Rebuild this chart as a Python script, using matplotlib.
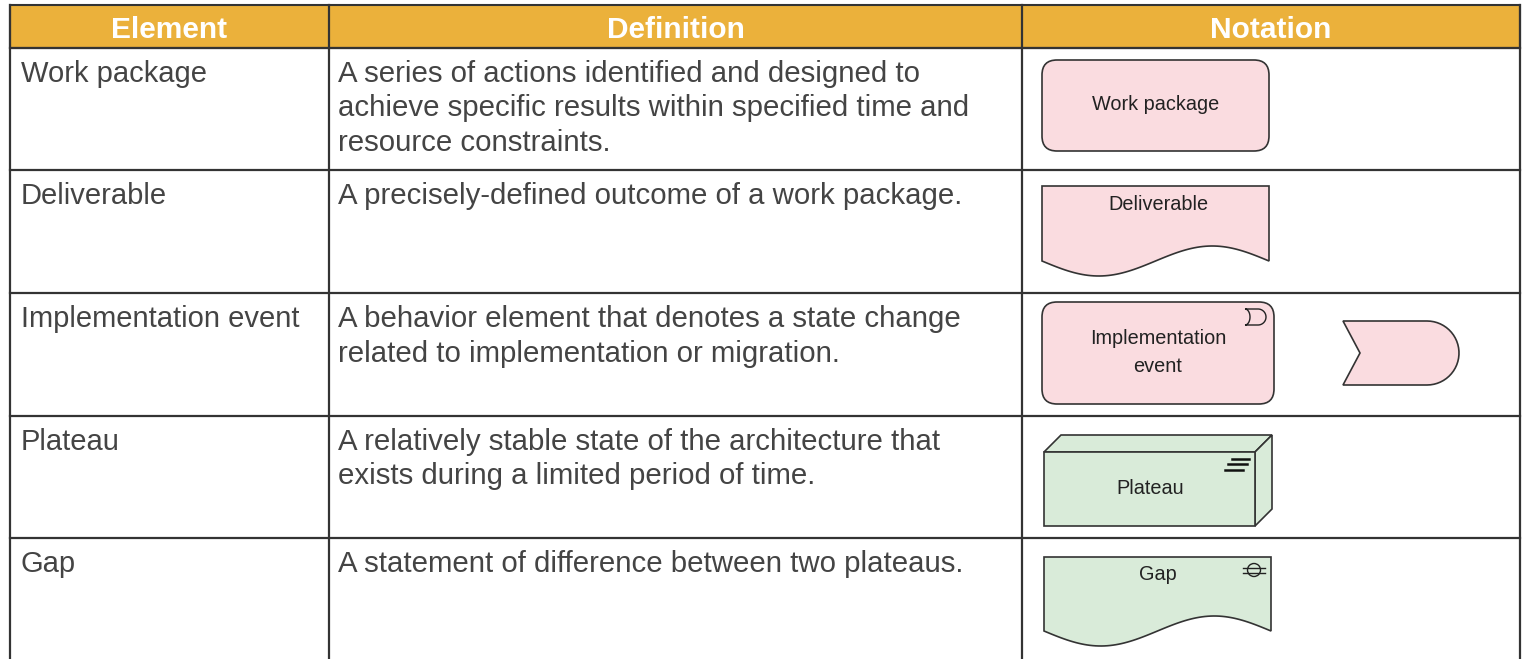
import numpy as np
import matplotlib.pyplot as plt
from matplotlib.patches import FancyBboxPatch, Polygon, Circle, Rectangle

plt.rcParams['font.family'] = ['Liberation Sans', 'DejaVu Sans']

# table content
headers = ['Element', 'Definition', 'Notation']
elements = ['Work package', 'Deliverable', 'Implementation event', 'Plateau', 'Gap']
definitions = [
    ['A series of actions identified and designed to',
     'achieve specific results within specified time and',
     'resource constraints.'],
    ['A precisely-defined outcome of a work package.'],
    ['A behavior element that denotes a state change',
     'related to implementation or migration.'],
    ['A relatively stable state of the architecture that',
     'exists during a limited period of time.'],
    ['A statement of difference between two plateaus.'],
]
shape_labels = ['Work package', 'Deliverable', 'Implementation\nevent', 'Plateau', 'Gap']

header_color = '#EBB13B'
pink = '#FADCE0'
green = '#D9EBD9'
line_color = '#333333'
text_color = '#444444'

W, H = 1524, 659
col_x = [10, 329, 1022, 1520]
header_top, header_bot = 5, 48
row_tops = [48, 170, 293, 416, 538]

fig = plt.figure(figsize=(W / 100, H / 100), dpi=100)
ax = fig.add_axes([0, 0, 1, 1])
ax.set_xlim(0, W)
ax.set_ylim(H, 0)
ax.axis('off')

# header
ax.add_patch(Rectangle((col_x[0], header_top), col_x[-1] - col_x[0], header_bot - header_top,
                       facecolor=header_color, edgecolor=line_color, lw=1.5, zorder=1))
for i, h in enumerate(headers):
    ax.text((col_x[i] + col_x[i + 1]) / 2, (header_top + header_bot) / 2 + 3, h,
            ha='center', va='center', color='white', fontsize=21.5, fontweight='bold')

# grid lines
for x in col_x:
    ax.plot([x, x], [header_top, H], color=line_color, lw=1.6, zorder=2)
for y in row_tops:
    ax.plot([col_x[0], col_x[-1]], [y, y], color=line_color, lw=1.6, zorder=2)

# text columns
for r, (el, lines) in enumerate(zip(elements, definitions)):
    base = row_tops[r] + 34
    ax.text(21, base, el, ha='left', va='baseline', fontsize=21, color=text_color)
    for k, ln in enumerate(lines):
        ax.text(338, base + k * 34.5, ln, ha='left', va='baseline', fontsize=21.2, color=text_color)


def wave_doc(x0, x1, ytop, ybase, amp, fc):
    xs = np.linspace(x1, x0, 80)
    t = (xs - x0) / (x1 - x0)
    ys = ybase + amp * np.sin(2 * np.pi * t)
    pts = [(x0, ytop), (x1, ytop)] + list(zip(xs, ys))
    ax.add_patch(Polygon(pts, closed=True, facecolor=fc, edgecolor=line_color, lw=1.2, zorder=3))


sfs = 14.3
# work package
ax.add_patch(FancyBboxPatch((1042, 60), 227, 91, boxstyle='round,pad=0,rounding_size=15',
                            facecolor=pink, edgecolor=line_color, lw=1.2, zorder=3))
ax.text(1156, 105, shape_labels[0], ha='center', va='center', fontsize=sfs, color='#222222', zorder=4)

# deliverable
wave_doc(1042, 1269, 186, 261, 15, pink)
ax.text(1158, 204, shape_labels[1], ha='center', va='center', fontsize=sfs, color='#222222', zorder=4)

# implementation event
ax.add_patch(FancyBboxPatch((1042, 302), 232, 102, boxstyle='round,pad=0,rounding_size=15',
                            facecolor=pink, edgecolor=line_color, lw=1.2, zorder=3))
ax.text(1158, 353, shape_labels[2], ha='center', va='center', fontsize=sfs, color='#222222',
        linespacing=1.6, zorder=4)
th = np.linspace(-np.pi / 2, np.pi / 2, 30)
icon = [(1245, 309)] + list(zip(1258 + 8 * np.cos(th), 317 + 8 * np.sin(th))) + [(1245, 325)]
icon += list(zip(1245 + 5 * np.cos(th[::-1]), 317 + 8 * np.sin(th[::-1])))
ax.add_patch(Polygon(icon, closed=True, facecolor='none', edgecolor='#222222', lw=1.0, zorder=4))

# event shape
arc = list(zip(1427 + 32 * np.cos(th), 353 + 32 * np.sin(th)))
ev = [(1343, 321)] + arc + [(1343, 385), (1360, 353)]
ax.add_patch(Polygon(ev, closed=True, facecolor=pink, edgecolor=line_color, lw=1.2, zorder=3))

# plateau
d = 17
ax.add_patch(Polygon([(1044, 452), (1044 + d, 452 - d), (1255 + d, 452 - d), (1255, 452)],
                     closed=True, facecolor=green, edgecolor=line_color, lw=1.2, zorder=3))
ax.add_patch(Polygon([(1255, 452), (1255 + d, 452 - d), (1255 + d, 526 - d), (1255, 526)],
                     closed=True, facecolor=green, edgecolor=line_color, lw=1.2, zorder=3))
ax.add_patch(Rectangle((1044, 452), 211, 74, facecolor=green, edgecolor=line_color, lw=1.2, zorder=3))
ax.text(1150, 489, shape_labels[3], ha='center', va='center', fontsize=sfs, color='#222222', zorder=4)
for (xa, xb, yy) in [(1232, 1249, 459), (1228, 1247, 464), (1225, 1243, 470)]:
    ax.plot([xa, xb], [yy, yy], color='#111111', lw=1.8, zorder=4)

# gap
wave_doc(1044, 1271, 557, 631, 15, green)
ax.text(1158, 574, shape_labels[4], ha='center', va='center', fontsize=sfs, color='#222222', zorder=4)
ax.add_patch(Circle((1254, 570), 6.5, facecolor='none', edgecolor='#222222', lw=1.0, zorder=4))
for yy in (568, 573):
    ax.plot([1243, 1265], [yy, yy], color='#222222', lw=1.0, zorder=4)

fig.savefig('out.png', dpi=100)
